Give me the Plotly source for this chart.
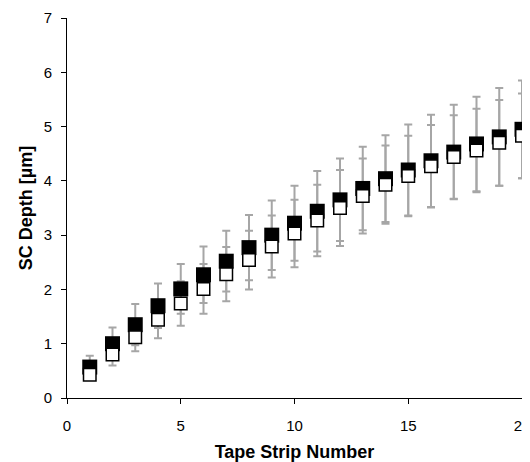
import plotly.graph_objects as go

strips = list(range(1, 21))
black_mean = [0.57, 1.00, 1.35, 1.70, 2.01, 2.27, 2.52, 2.77, 3.00, 3.22,
              3.44, 3.65, 3.86, 4.04, 4.20, 4.37, 4.53, 4.68, 4.81, 4.95]
black_err = [0.21, 0.30, 0.38, 0.41, 0.46, 0.52, 0.56, 0.60, 0.64, 0.69,
             0.74, 0.76, 0.77, 0.80, 0.84, 0.85, 0.87, 0.87, 0.90, 0.90]
white_mean = [0.43, 0.80, 1.12, 1.44, 1.74, 2.01, 2.28, 2.54, 2.79, 3.03,
              3.27, 3.50, 3.72, 3.93, 4.09, 4.27, 4.44, 4.56, 4.70, 4.83]
white_err = [0.10, 0.20, 0.26, 0.34, 0.41, 0.46, 0.50, 0.54, 0.57, 0.62,
             0.66, 0.70, 0.69, 0.72, 0.74, 0.76, 0.77, 0.77, 0.79, 0.78]

ERR_COLOR = "#a6a6a6"
FONT = "Liberation Sans, Arial, sans-serif"

fig = go.Figure()

# error bars first (so markers cover them)
for ys, es in [(black_mean, black_err), (white_mean, white_err)]:
    fig.add_trace(go.Scatter(
        x=strips, y=ys, mode="markers",
        marker=dict(size=2, opacity=0),
        error_y=dict(type="data", array=es, visible=True,
                     color=ERR_COLOR, thickness=2, width=4),
        showlegend=False, hoverinfo="skip", cliponaxis=False))

fig.add_trace(go.Scatter(
    x=strips, y=black_mean, mode="markers",
    marker=dict(symbol="square", size=15, color="black",
                line=dict(color="black", width=0)),
    showlegend=False, cliponaxis=False))
fig.add_trace(go.Scatter(
    x=strips, y=white_mean, mode="markers",
    marker=dict(symbol="square", size=12.5, color="white",
                line=dict(color="black", width=1.5)),
    showlegend=False, cliponaxis=False))

fig.update_layout(
    width=530, height=454,
    margin=dict(l=59, r=16, t=10, b=64),
    paper_bgcolor="white", plot_bgcolor="white",
    font=dict(family=FONT, color="black", size=15),
    showlegend=False,
)
fig.update_xaxes(
    range=[0, 20], tickvals=[0, 5, 10, 15, 20], ticktext=["0", "5", "10", "15", "20"],
    showgrid=False, zeroline=False, showline=True, linecolor="black", linewidth=1,
    ticks="outside", ticklen=5, tickcolor="black", tickfont=dict(size=15),
    ticklabelstandoff=9, automargin=False,
    title=dict(text="<b>Tape Strip Number</b>", font=dict(size=18), standoff=15),
)
fig.update_yaxes(
    range=[0, 7], tickvals=[0, 1, 2, 3, 4, 5, 6, 7],
    showgrid=False, zeroline=False, showline=True, linecolor="black", linewidth=1,
    ticks="outside", ticklen=5, tickcolor="black", tickfont=dict(size=15),
    ticklabelstandoff=6, automargin=False,
    title=dict(text="<b>SC Depth [µm]</b>", font=dict(size=18), standoff=6),
)

fig.write_html("out.html")
